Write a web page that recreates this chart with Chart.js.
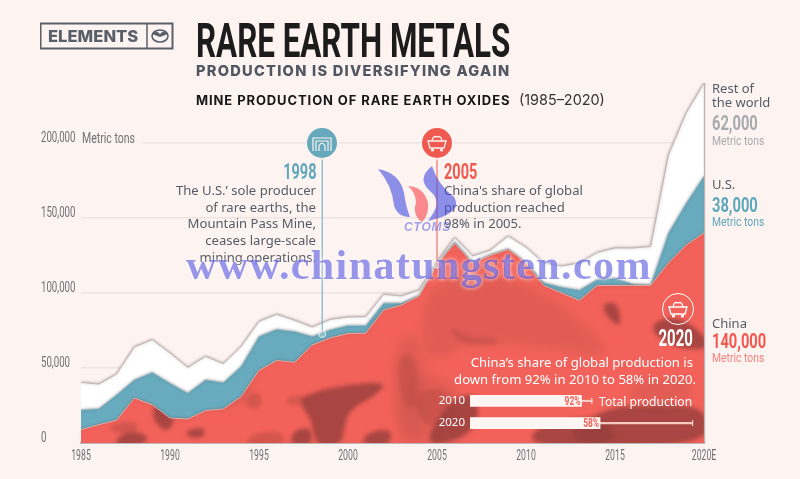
<!DOCTYPE html>
<html>
<head>
<meta charset="utf-8">
<script src="https://cdn.jsdelivr.net/npm/chart.js@4"></script>
<style>
  html, body { margin: 0; padding: 0; background: #fdf3f1; }
  #page { position: relative; width: 800px; height: 479px; overflow: hidden; background: #fdf3f1; }
  #page canvas { position: absolute; }
  .t { position: absolute; white-space: nowrap; font-family: "Noto Sans", sans-serif; color: #555c66; }
  .narrow { font-family: Roboto, sans-serif; transform-origin: 0 0; }
  .narrow.r { transform-origin: 100% 0; }
  .body { font-size: 13.1px; line-height: 16.7px; }
  .big { font-weight: 700; font-size: 21px; line-height: 22px; transform: scaleX(.7); }
  .mt { font-size: 13.5px; line-height: 14px; transform: scaleX(.77); }
  .yr { font-weight: 700; font-size: 22px; line-height: 24px; transform: scaleX(.66); }
  svg { position: absolute; }
</style>
</head>
<body>
<div id="page">
  <canvas id="main-chart" width="800" height="479" style="left:0;top:0"></canvas>
  <canvas id="share-chart" width="270" height="68" style="left:430px;top:378px"></canvas>

  <!-- header -->
  <svg style="left:40px;top:22px" width="134" height="28">
    <rect x="0.5" y="1.5" width="132" height="25" fill="none" stroke="#596069" stroke-width="2"/>
    <line x1="107" y1="2" x2="107" y2="27" stroke="#596069" stroke-width="1.5"/>
    <ellipse cx="120" cy="14" rx="8" ry="6" fill="none" stroke="#596069" stroke-width="1.6"/>
    <path d="M112 12 Q116 7 120 12 Q124 7 128 12 L120 15 Z" fill="#596069"/>
  </svg>
  <div class="t" style="left:48px;top:26px;font:800 16.6px/20px Inter,sans-serif;color:#596069">ELEMENTS</div>
  <div class="t narrow" style="left:196px;top:16px;font-weight:700;font-size:47.5px;line-height:50px;color:#1d1c1c;transform:scaleX(.66)">RARE EARTH METALS</div>
  <div class="t" style="left:196px;top:63px;font:800 14.6px/17px Inter,sans-serif;color:#505762;letter-spacing:1.26px">PRODUCTION IS DIVERSIFYING AGAIN</div>
  <div class="t" style="left:196px;top:92px;font:700 13px/16px Inter,sans-serif;color:#161616;letter-spacing:.9px">MINE PRODUCTION OF RARE EARTH OXIDES</div>
  <div class="t" style="left:519px;top:92px;font:400 14.4px/16px Inter,sans-serif;color:#333">(1985–2020)</div>

  <div style="position:absolute;left:81px;top:141px;width:62px;height:4px;background:#fdf3f1"></div>
  <div class="t narrow" style="left:82px;top:131px;font-size:14px;line-height:15px;color:#6d7076;transform:scaleX(.75)">Metric tons</div>

  <!-- 1998 note -->
  <svg style="left:305px;top:126px" width="34" height="34">
    <circle cx="17" cy="17" r="16.5" fill="#fdf3f1"/>
    <circle cx="17" cy="17" r="15" fill="#66a9bc"/>
    <path d="M8 25 V12 H26 V25 M11 25 V15 H23 V25 M14 25 V20 Q17 14 20 20 V25" fill="none" stroke="#fdf3f1" stroke-width="1.2"/>
  </svg>
  <div class="t narrow r yr" style="right:484px;top:160px;color:#62a8bc">1998</div>
  <div class="t body" style="right:484px;top:182px;text-align:right">The U.S.’ sole producer<br>of rare earths, the<br>Mountain Pass Mine,<br>ceases large-scale<br>mining operations.</div>

  <!-- 2005 note -->
  <svg style="left:420px;top:126px" width="34" height="34">
    <circle cx="17" cy="17" r="16.5" fill="#fdf3f1"/>
    <circle cx="17" cy="17" r="15" fill="#f0594f"/>
    <path d="M8 15 H26 L24 22 H10 Z M12 15 Q13 9 17 11 Q21 9 22 15" fill="none" stroke="#fdf3f1" stroke-width="1.3"/>
    <circle cx="12.5" cy="24" r="1.6" fill="#fdf3f1"/><circle cx="21.5" cy="24" r="1.6" fill="#fdf3f1"/>
  </svg>
  <div class="t narrow yr" style="left:444px;top:160px;color:#f0594f">2005</div>
  <div class="t body" style="left:444px;top:182px">China's share of global<br>production reached<br>98% in 2005.</div>

  <!-- 2020 note -->
  <svg style="left:660px;top:291px" width="36" height="36">
    <circle cx="18" cy="18" r="15.5" fill="none" stroke="#fff" stroke-width="1"/>
    <path d="M9 16 H27 L25 23 H11 Z M13 16 Q14 10 18 12 Q22 10 23 16" fill="none" stroke="#fff" stroke-width="1.3"/>
    <circle cx="13.5" cy="25" r="1.6" fill="#fff"/><circle cx="22.5" cy="25" r="1.6" fill="#fff"/>
  </svg>
  <div class="t narrow r" style="right:107px;top:327px;font-weight:700;font-size:23px;line-height:24px;color:#fff;transform:scaleX(.65)">2020</div>
  <div class="t body" style="right:104px;top:354px;text-align:right;color:#fff"><span style="margin-right:3px">China’s share of global production is</span><br>down from 92% in 2010 to 58% in 2020.</div>
  <div class="t" style="left:599px;top:394px;font-size:12.1px;line-height:16px;color:#fff">Total production</div>

  <!-- series labels -->
  <div class="t" style="left:712px;top:82px;font-size:13px;line-height:13.5px">Rest of<br>the world</div>
  <div class="t narrow big" style="left:712px;top:112px;color:#a7aaaf">62,000</div>
  <div class="t narrow mt" style="left:712px;top:133px;color:#a7aaaf">Metric tons</div>
  <div class="t" style="left:712px;top:177px;font-size:13px;line-height:15px">U.S.</div>
  <div class="t narrow big" style="left:712px;top:194px;color:#5fa8bb">38,000</div>
  <div class="t narrow mt" style="left:712px;top:214px;color:#5fa8bb">Metric tons</div>
  <div class="t" style="left:712px;top:316px;font-size:13px;line-height:15px">China</div>
  <div class="t narrow big" style="left:712px;top:330px;color:#f2584e">140,000</div>
  <div class="t narrow mt" style="left:712px;top:350px;color:#f4837b">Metric tons</div>

  <!-- site watermark -->
  <svg style="left:376px;top:165px;opacity:.62" width="90" height="60">
    <path d="M2 4 Q24 8 28 28 Q30 42 34 52 Q21 52 18 40 Q16 20 2 4 Z" fill="#4a4fe0"/>
    <path d="M56 1 Q40 14 54 26 Q66 36 56 50 L52 56 Q88 48 78 32 Q62 20 56 1 Z" fill="#4a4fe0"/>
    <path d="M32 21 Q48 22 52 38 Q53 50 46 57 Q36 50 40 38 Q40 28 32 21 Z" fill="#f9484f"/>
  </svg>
  <div class="t" style="left:404px;top:221px;font:italic 700 12px/13px 'Liberation Sans',sans-serif;color:rgba(74,79,224,.5);letter-spacing:.8px">CTOMS</div>
  <div class="t" style="left:186px;top:241px;font:700 42px/48px 'Liberation Serif',serif;letter-spacing:1.4px;color:rgba(66,66,220,.55);text-shadow:0 0 4px rgba(255,255,255,.85)">www.chinatungsten.com</div>
</div>

<script>
const years = ['1985', '1986', '1987', '1988', '1989', '1990', '1991', '1992', '1993', '1994', '1995', '1996',
    '1997', '1998', '1999', '2000', '2001', '2002', '2003', '2004', '2005', '2006', '2007', '2008',
    '2009', '2010', '2011', '2012', '2013', '2014', '2015', '2016', '2017', '2018', '2019', '2020E'];
const xTickLabels = ['1985', '1990', '1995', '2000', '2005', '2010', '2015', '2020E'];
const yTickValues = [0, 50000, 100000, 150000, 200000];

const chinaValues = [8900, 12200, 15200, 30000, 25500, 16600, 16000, 21600, 22700, 31000, 48400, 55000,
    53800, 65400, 70000, 73000, 73200, 88600, 92000, 98000, 119000, 133000, 120000, 125000,
    129000, 120000, 105000, 100000, 95000, 105000, 105000, 105000, 105000, 120000, 132000, 140000];
const usValues = [13300, 10700, 17000, 12200, 21600, 23400, 17300, 20600, 17700, 20100, 22700, 20900,
    20600, 5700, 5500, 5400, 5200, 4700, 1300, 500, 500, 1000, 500, 500,
    500, 500, 2000, 4000, 7000, 4000, 5000, 1000, 500, 20000, 28000, 38000];
const restValues = [18200, 16400, 13800, 21800, 21800, 20000, 17100, 15600, 12500, 13300, 10000, 9900,
    7400, 6200, 6900, 5600, 5800, 5800, 4700, 3500, 1500, 3000, 4200, 3000,
    8500, 10000, 13000, 14000, 18000, 18000, 20000, 24000, 25500, 52000, 60000, 62000];

// callouts: fractional year position, value where the leader line ends
const calloutYears = [1998.55, 2005];
const calloutValues = [72700, 119000];
const calloutTop = 200000;
const calloutColors = ['#66a9bc', '#f0594f'];

// inset bars
const shareYears = ['2010', '2020'];
const shareChina = [120000, 140000];
const shareOther = [11500, 100000];
const shareLabels = ['92%', '58%'];

// rock photo stand-in for the China area
function rockTexture() {
    const c = document.createElement('canvas');
    c.width = 800;
    c.height = 479;
    const g = c.getContext('2d');
    g.fillStyle = '#f3625a';
    g.fillRect(0, 0, 800, 479);
    const blob = (color, pts) => {
        g.fillStyle = color;
        g.beginPath();
        // smooth outline through the edge midpoints
        pts.forEach((p, i) => {
            const q = pts[(i + 1) % pts.length];
            const mx = (p[0] + q[0]) / 2, my = (p[1] + q[1]) / 2;
            if (i === 0) g.moveTo(mx, my);
            else g.quadraticCurveTo(p[0], p[1], mx, my);
        });
        g.quadraticCurveTo(pts[0][0], pts[0][1], (pts[0][0] + pts[1][0]) / 2, (pts[0][1] + pts[1][1]) / 2);
        g.fill();
    };
    const dark = 'rgba(150,62,60,.8)';
    const mid = 'rgba(185,76,70,.55)';
    const soft = 'rgba(200,84,78,.4)';

    g.filter = 'blur(5px)';
    blob(soft, [[420, 290], [480, 265], [560, 300], [620, 360], [560, 350], [470, 340], [425, 370]]);
    blob(soft, [[390, 340], [425, 330], [425, 443], [395, 443]]);
    blob(soft, [[400, 380], [445, 372], [470, 412], [465, 443], [400, 443]]);
    blob(soft, [[620, 385], [690, 375], [695, 402], [640, 408]]);
    blob(soft, [[200, 385], [250, 375], [255, 400], [215, 412]]);

    g.filter = 'blur(2px)';
    blob(mid, [[247, 395], [260, 392], [262, 405], [255, 410], [246, 405]]);
    blob(mid, [[286, 397], [305, 395], [312, 402], [287, 407]]);
    blob(mid, [[250, 434], [282, 430], [285, 446], [245, 446]]);
    blob(mid, [[110, 424], [135, 420], [140, 432], [112, 434]]);
    blob(mid, [[450, 326], [470, 338], [497, 338], [498, 345], [468, 345], [452, 336]]);
    blob(mid, [[395, 360], [415, 350], [420, 400], [405, 412]]);
    blob(mid, [[410, 395], [445, 385], [460, 415], [425, 430]]);
    blob(dark, [[160, 398], [172, 405], [174, 426], [163, 432], [150, 414]]);
    blob(dark, [[117, 438], [130, 430], [150, 436], [142, 446], [115, 446]]);
    blob(dark, [[186, 430], [205, 427], [204, 438], [187, 437]]);
    blob(dark, [[312, 392], [350, 384], [388, 382], [375, 396], [352, 408], [345, 422], [342, 446], [315, 446], [312, 420], [298, 402]]);
    blob(dark, [[293, 430], [312, 427], [312, 446], [290, 446]]);
    blob(dark, [[365, 433], [392, 428], [390, 446], [362, 446]]);
    blob(dark, [[598, 306], [618, 300], [622, 332]]);
    blob(dark, [[646, 326], [676, 314], [708, 338], [708, 350], [672, 348]]);
    blob(dark, [[600, 408], [660, 404], [708, 408], [708, 446], [556, 446]]);
    blob(dark, [[536, 426], [600, 413], [622, 446], [528, 446]]);
    blob(dark, [[450, 400], [478, 392], [478, 430], [440, 446], [425, 440]]);
    return g.createPattern(c, 'no-repeat');
}

// condensed tick text: no narrow face is installed, so the labels are squeezed horizontally
function squeezedText(ctx, text, x, y, squeeze, align) {
    ctx.save();
    ctx.translate(x, y);
    ctx.scale(squeeze, 1);
    ctx.textAlign = align;
    ctx.textBaseline = 'middle';
    ctx.fillText(text, 0, 0);
    ctx.restore();
}

const tickText = {
    id: 'tickText',
    afterDraw(chart) {
        const { x, y } = chart.scales;
        const ctx = chart.ctx;
        ctx.save();
        ctx.fillStyle = '#6d7076';
        ctx.font = '14px Roboto, sans-serif';
        y.ticks.forEach(t => squeezedText(ctx, t.label, y.left, y.getPixelForValue(t.value) - 4.5, 0.69, 'left'));
        x.ticks.forEach((t, i) => {
            if (t.label) squeezedText(ctx, t.label, x.getPixelForTick(i), 456, 0.62, 'center');
        });
        ctx.restore();
    }
};

const calloutPlugin = {
    id: 'callouts',
    afterDatasetsDraw(chart) {
        const { x, y } = chart.scales;
        const ctx = chart.ctx;
        // right edge shadow of the stack
        ctx.save();
        ctx.strokeStyle = 'rgba(150,140,140,.6)';
        ctx.lineWidth = 1.5;
        ctx.beginPath();
        ctx.moveTo(x.right + 0.5, y.getPixelForValue(240000));
        ctx.lineTo(x.right + 0.5, y.bottom);
        ctx.stroke();
        calloutYears.forEach((year, i) => {
            const px = x.getPixelForValue(year - 1985);
            const py = y.getPixelForValue(calloutValues[i]);
            ctx.strokeStyle = calloutColors[i];
            ctx.lineWidth = 1;
            ctx.beginPath();
            ctx.moveTo(px, y.getPixelForValue(calloutTop));
            ctx.lineTo(px, py);
            ctx.stroke();
            ctx.beginPath();
            ctx.arc(px, py, 3.5, 0, Math.PI * 2);
            ctx.fillStyle = 'rgba(255,255,255,.25)';
            ctx.fill();
            ctx.strokeStyle = '#dff0f3';
            ctx.lineWidth = 1;
            ctx.stroke();
        });
        ctx.restore();
    }
};

const areaShadow = {
    id: 'areaShadow',
    beforeDatasetsDraw(chart) {
        chart.ctx.save();
        chart.ctx.shadowColor = 'rgba(90,70,70,.45)';
        chart.ctx.shadowBlur = 3;
    },
    afterDatasetsDraw(chart) {
        chart.ctx.restore();
    }
};

const area = (label, data, fill, backgroundColor, borderColor) => ({
    label, data, fill, backgroundColor, borderColor,
    borderWidth: 1, pointRadius: 0, tension: 0
});

new Chart(document.getElementById('main-chart'), {
    type: 'line',
    data: {
        labels: years,
        datasets: [
            area('China', chinaValues, 'origin', rockTexture(), 'rgba(250,190,180,.7)'),
            area('U.S.', usValues, '-1', '#68abbe', 'rgba(170,200,210,.8)'),
            area('Rest of the world', restValues, '-1', '#ffffff', 'rgba(190,180,178,.9)')
        ]
    },
    plugins: [areaShadow, calloutPlugin, tickText],
    options: {
        responsive: false,
        animation: false,
        layout: { padding: { left: 41, right: 96, top: 83, bottom: 0 } },
        plugins: { legend: { display: false }, tooltip: { enabled: false } },
        scales: {
            x: {
                offset: false,
                afterFit: s => { s.height = 36; },
                grid: { display: false, drawTicks: false },
                border: { color: '#b9b6b5', width: 2 },
                ticks: {
                    display: false, autoSkip: false, maxRotation: 0,
                    callback(v) {
                        const name = this.getLabelForValue(v);
                        return xTickLabels.includes(name) ? name : '';
                    }
                }
            },
            y: {
                stacked: true,
                min: 0,
                max: 240000,
                afterBuildTicks: s => { s.ticks = yTickValues.map(value => ({ value })); },
                afterFit: s => { s.width = 40; },
                grid: { color: '#f0e4e2', lineWidth: 1.5, drawTicks: false },
                border: { display: false },
                ticks: {
                    display: false,
                    callback: v => v.toLocaleString('en-US')
                }
            }
        }
    }
});

const shareEnds = {
    id: 'shareEnds',
    afterDatasetsDraw(chart) {
        const ctx = chart.ctx;
        const china = chart.getDatasetMeta(0).data;
        const other = chart.getDatasetMeta(1).data;
        ctx.save();
        china.forEach((bar, i) => {
            ctx.fillStyle = '#f3625a';
            ctx.font = '700 13px Roboto, sans-serif';
            squeezedText(ctx, shareLabels[i], bar.x - 1, bar.y + 0.5, 0.65, 'right');
            ctx.fillStyle = '#f6d5d0';
            ctx.fillRect(other[i].x - 1, other[i].y - 3, 1.2, 6);
        });
        ctx.restore();
    }
};

new Chart(document.getElementById('share-chart'), {
    type: 'bar',
    data: {
        labels: shareYears,
        datasets: [
            { data: shareChina, backgroundColor: '#fff5f3', barThickness: 11 },
            { data: shareOther, backgroundColor: '#f6c9c3', barThickness: 1.5 }
        ]
    },
    plugins: [shareEnds],
    options: {
        indexAxis: 'y',
        responsive: false,
        animation: false,
        layout: { padding: { left: 0, right: 7, top: 0, bottom: 0 } },
        plugins: { legend: { display: false }, tooltip: { enabled: false } },
        scales: {
            x: { display: false, stacked: true, min: 0, max: 240000 },
            y: {
                stacked: true,
                afterFit: s => { s.width = 40; },
                grid: { display: false, drawTicks: false },
                border: { display: false },
                ticks: { color: '#fff', padding: 5, font: { family: '"Noto Sans", sans-serif', size: 11.5 } }
            }
        }
    }
});
</script>
</body>
</html>
